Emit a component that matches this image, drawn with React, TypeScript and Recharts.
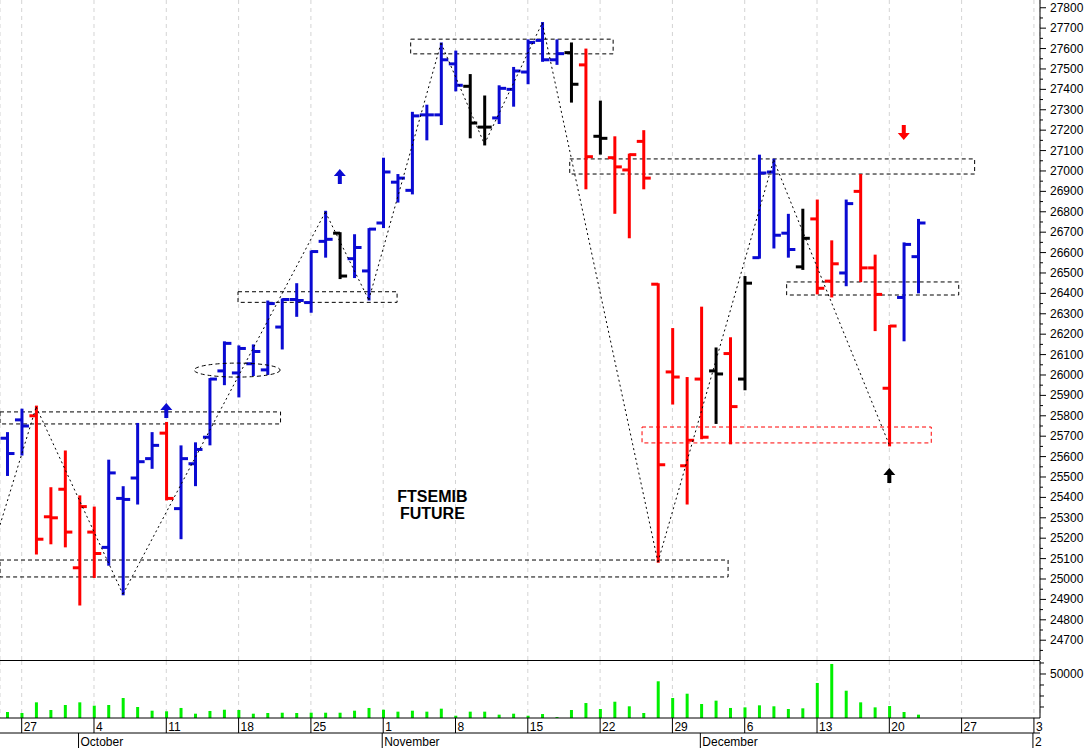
import { ComposedChart, Bar, XAxis, YAxis, CartesianGrid, ReferenceLine, ReferenceArea, ReferenceDot } from "recharts";

const FONT = 'Arial, "Liberation Sans", sans-serif';

// trading days: index 0 = Fri 24 Sep, index 1 = Mon 27 Sep, ... index 63 = Wed 22 Dec
const opens = [
  25690, 25780, 25800, 25305, 25440, 25055, 25230, 25155, 25395, 25495, 25590, 25715, 25345, 25565, 25695, 26020,
  26010, 26055, 26025, 26235, 26370, 26355, 26655, 26695, 26570, 26510, 26745, 26945, 26905, 27275, 27275, 27525,
  27415, 27215, 27260, 27400, 27485, 27640, 27545, 27580, 27520, 27170, 27065, 27005, 27145, 26445, 26015, 25555,
  25980, 26020, 26105, 25980, 26575, 26995, 26695, 26530, 26765, 26460, 26500, 26900, 26525, 25935, 26380, 26580,
];
const highs = [
  25715, 25830, 25845, 25445, 25625, 25405, 25350, 25580, 25450, 25760, 25715, 25765, 25650, 25665, 25980, 26160,
  26140, 26145, 26360, 26370, 26445, 26605, 26800, 26695, 26685, 26715, 27060, 26980, 27285, 27320, 27625, 27585,
  27470, 27365, 27415, 27505, 27640, 27725, 27640, 27625, 27595, 27340, 27165, 27080, 27195, 26445, 26225, 25985,
  26330, 26130, 26180, 26480, 27075, 27055, 26785, 26810, 26855, 26655, 26855, 26980, 26585, 26240, 26645, 26760,
];
const lows = [
  25510, 25610, 25125, 25175, 25160, 24875, 25010, 25070, 24925, 25370, 25545, 25390, 25200, 25460, 25660, 25955,
  25895, 26000, 26005, 26130, 26290, 26310, 26580, 26475, 26480, 26370, 26725, 26850, 26890, 27155, 27230, 27395,
  27165, 27130, 27235, 27320, 27430, 27540, 27525, 27340, 26915, 27085, 26795, 26675, 26915, 25085, 25860, 25370,
  25690, 25765, 25665, 25930, 26575, 26625, 26580, 26520, 26400, 26385, 26440, 26460, 26220, 25655, 26170, 26405,
];
const closes = [
  25615, 25750, 25195, 25300, 25230, 25355, 25125, 25520, 25390, 25575, 25655, 25395, 25590, 25635, 25980, 26155,
  26130, 26115, 26350, 26370, 26365, 26605, 26665, 26485, 26625, 26715, 26995, 26965, 27270, 27275, 27545, 27420,
  27235, 27215, 27405, 27490, 27630, 27545, 27575, 27425, 27070, 27160, 27020, 27080, 26965, 25560, 25990, 25680,
  25695, 26005, 25845, 26450, 26990, 26685, 26615, 26670, 26425, 26545, 26840, 26525, 26395, 26240, 26640, 26745,
];
// signal of each bar: B = long, R = short, K = neutral
const signals = [
  "B", "B", "R", "R", "R", "R", "R", "B", "B", "B", "B", "R", "B", "B", "B", "B",
  "B", "B", "B", "B", "B", "B", "B", "K", "B", "B", "B", "B", "B", "B", "B", "B",
  "K", "K", "B", "B", "B", "B", "B", "K", "R", "K", "R", "R", "R", "R", "R", "R",
  "R", "K", "R", "K", "B", "B", "B", "K", "R", "R", "B", "R", "R", "R", "B", "B",
];
const volumes = [
  6800, 5700, 17800, 9100, 14800, 17800, 14000, 14800, 22700, 12500, 8300, 7600, 11400, 4900, 8000, 9400,
  9100, 4900, 5700, 6000, 5700, 6000, 6000, 6000, 8300, 11400, 9400, 7200, 8300, 7200, 10600, 2600,
  7200, 7200, 3800, 4900, 2600, 4500, 1100, 9100, 17000, 10200, 18500, 13300, 5700, 41700, 22700, 27600,
  15900, 19700, 11400, 12100, 14400, 13300, 10200, 11000, 39800, 61400, 31000, 17800, 12100, 13600, 6800, 3800,
];

const weekTicks = [1, 6, 11, 16, 21, 26, 31, 36, 41, 46, 51, 56, 61, 66, 71];
const weekLabels = ["27", "4", "11", "18", "25", "1", "8", "15", "22", "29", "6", "13", "20", "27", "3"];
const monthTicks = [5, 26, 48, 71];
const monthLabels = ["October", "November", "December", "2"];

// zigzag swing points
const pivotIdx = [-0.5, 2, 8, 22, 25, 30, 33, 37, 45, 53, 61];
const pivotVal = [25265, 25843, 24926, 26799, 26368, 27627, 27132, 27726, 25083, 27054, 25657];

// support / resistance boxes: [x1, x2, y1, y2]
const boxes = [
  [-0.5, 49.85, 25010, 25093],
  [-0.5, 18.9, 25760, 25819],
  [15.96, 26.96, 26356, 26408],
  [27.9, 41.9, 27574, 27646],
  [38.9, 66.9, 26985, 27059],
  [53.9, 65.8, 26392, 26456],
];
const redBox = [43.9, 63.9, 25667, 25745];

// signal arrows: index, price, kind
const arrows = [
  { i: 11, v: 25823, kind: "upB" },
  { i: 23, v: 26970, kind: "upB" },
  { i: 62, v: 27191, kind: "downR" },
  { i: 61, v: 25505, kind: "upK" },
];

const W = 1088;
const PLOT_W = 1040;
const PRICE_H = 660;
const VOL_H = 57;
const ROW_H = 15;
const X_DOMAIN = [-0.5, 71.42];
const PRICE_DOMAIN = [24603, 27838];
const VOL_MAX = 64750;

const COLORS: Record<string, string> = { B: "#0a0ad2", R: "#ff0000", K: "#000000" };

const bars = opens.map((o, i) => ({
  i,
  open: o,
  high: highs[i],
  low: lows[i],
  close: closes[i],
  sig: signals[i],
  vol: volumes[i],
}));

const priceTicks: number[] = [];
for (let v = 24650; v <= 27800; v += 50) priceTicks.push(v);
const volTicks = [12500, 25000, 37500, 50000, 62500];

const OhlcShape = (props: any) => {
  const { x, y, width, height, payload } = props;
  const cx = x + width / 2;
  const top = Math.min(y, y + height);
  const h = Math.abs(height);
  const span = payload.high - payload.low || 1;
  const yOf = (v: number) => top + ((payload.high - v) / span) * h;
  const c = COLORS[payload.sig];
  return (
    <g stroke={c} strokeWidth={3}>
      <line x1={cx} x2={cx} y1={top - 1} y2={top + h + 1} />
      <line x1={cx - 7} x2={cx} y1={yOf(payload.open)} y2={yOf(payload.open)} />
      <line x1={cx} x2={cx + 7} y1={yOf(payload.close)} y2={yOf(payload.close)} />
    </g>
  );
};

const PriceTick = ({ y, payload }: any) => {
  const major = payload.value % 100 === 0;
  return (
    <g>
      <line x1={PLOT_W} x2={PLOT_W + (major ? 6 : 3)} y1={y} y2={y} stroke="#000" />
      {major && (
        <text x={PLOT_W + 10} y={y + 4} fontSize={12} fill="#000" fontFamily={FONT}>
          {payload.value}
        </text>
      )}
    </g>
  );
};

const VolTick = ({ y, payload }: any) => {
  const major = payload.value === 50000;
  return (
    <g>
      <line x1={PLOT_W} x2={PLOT_W + (major ? 6 : 4)} y1={y} y2={y} stroke="#000" />
      {major && (
        <text x={PLOT_W + 10} y={y + 4} fontSize={12} fill="#000" fontFamily={FONT}>
          {payload.value}
        </text>
      )}
    </g>
  );
};

const DayTick = ({ x, payload }: any) => (
  <g>
    <line x1={x} x2={x} y1={VOL_H} y2={VOL_H + ROW_H} stroke="#000" />
    <text x={x + 2} y={VOL_H + 13} fontSize={12} fill="#000" fontFamily={FONT}>
      {weekLabels[weekTicks.indexOf(payload.value)]}
    </text>
  </g>
);

const MonthTick = ({ x, payload }: any) => (
  <g>
    <line x1={x - 1} x2={x - 1} y1={VOL_H + ROW_H} y2={VOL_H + 2 * ROW_H} stroke="#000" />
    <text x={x + 1} y={VOL_H + ROW_H + 12.5} fontSize={12} fill="#000" fontFamily={FONT}>
      {monthLabels[monthTicks.indexOf(payload.value)]}
    </text>
  </g>
);

const Arrow = ({ cx, cy, kind }: any) => {
  const c = kind === "upB" ? COLORS.B : kind === "downR" ? COLORS.R : COLORS.K;
  const d =
    kind === "downR"
      ? `M${cx} ${cy + 8} L${cx - 6} ${cy + 1} L${cx - 2} ${cy + 1} L${cx - 2} ${cy - 7} L${cx + 2} ${cy - 7} L${cx + 2} ${cy + 1} L${cx + 6} ${cy + 1} Z`
      : `M${cx} ${cy - 8} L${cx - 6} ${cy - 1} L${cx - 2} ${cy - 1} L${cx - 2} ${cy + 7} L${cx + 2} ${cy + 7} L${cx + 2} ${cy - 1} L${cx + 6} ${cy - 1} Z`;
  return <path d={d} fill={c} stroke="none" />;
};

export default function App() {
  return (
    <div style={{ position: "absolute", left: 0, top: 0, width: W, height: 748, background: "#fff", fontFamily: FONT }}>
      <ComposedChart width={W} height={PRICE_H} data={bars} margin={{ top: 0, right: 0, bottom: 0, left: 0 }}>
        <CartesianGrid horizontal={false} stroke="#d4d4d4" strokeDasharray="4 4" />
        <XAxis type="number" dataKey="i" domain={X_DOMAIN} ticks={weekTicks} interval={0} hide allowDataOverflow />
        <YAxis
          orientation="right"
          width={W - PLOT_W}
          domain={PRICE_DOMAIN}
          ticks={priceTicks}
          interval={0}
          tick={<PriceTick />}
          tickLine={false}
          axisLine={{ stroke: "#000" }}
          allowDataOverflow
        />
        {boxes.map((b, k) => (
          <ReferenceArea
            key={"b" + k}
            x1={b[0]}
            x2={b[1]}
            y1={b[2]}
            y2={b[3]}
            fill="none"
            fillOpacity={0}
            stroke="#000"
            strokeDasharray="4 3"
            ifOverflow="visible"
          />
        ))}
        <ReferenceArea
          x1={redBox[0]}
          x2={redBox[1]}
          y1={redBox[2]}
          y2={redBox[3]}
          fill="none"
          fillOpacity={0}
          stroke="#ff0000"
          strokeDasharray="4 3"
          ifOverflow="visible"
        />
        <ReferenceDot
          x={15.9}
          y={26024}
          r={1}
          ifOverflow="visible"
          shape={(p: any) => (
            <ellipse cx={p.cx} cy={p.cy} rx={43} ry={7} fill="none" stroke="#000" strokeDasharray="4 3" />
          )}
        />
        {pivotIdx.slice(1).map((xi, k) => (
          <ReferenceLine
            key={"z" + k}
            segment={[
              { x: pivotIdx[k], y: pivotVal[k] },
              { x: xi, y: pivotVal[k + 1] },
            ]}
            stroke="#000"
            strokeDasharray="2 3"
            ifOverflow="visible"
          />
        ))}
        <Bar dataKey={(d: any) => [d.low, d.high]} barSize={3} shape={<OhlcShape />} isAnimationActive={false} />
        {arrows.map((a, k) => (
          <ReferenceDot
            key={"a" + k}
            x={a.i}
            y={a.v}
            r={1}
            ifOverflow="visible"
            shape={(p: any) => <Arrow cx={p.cx} cy={p.cy} kind={a.kind} />}
          />
        ))}
        <ReferenceDot
          x={29.4}
          y={25377}
          r={1}
          ifOverflow="visible"
          shape={(p: any) => (
            <g fontFamily={FONT} fontSize={16} fontWeight="bold" fill="#000" textAnchor="middle">
              <text x={p.cx} y={p.cy}>FTSEMIB</text>
              <text x={p.cx} y={p.cy + 17}>FUTURE</text>
            </g>
          )}
        />
      </ComposedChart>
      <div style={{ width: PLOT_W, height: 0, borderTop: "1px solid #000" }} />
      <ComposedChart width={W} height={VOL_H + 2 * ROW_H} data={bars} margin={{ top: 0, right: 0, bottom: 0, left: 0 }}>
        <CartesianGrid xAxisId="d" horizontal={false} stroke="#d4d4d4" strokeDasharray="4 4" />
        <XAxis
          xAxisId="d"
          type="number"
          dataKey="i"
          domain={X_DOMAIN}
          ticks={weekTicks}
          interval={0}
          height={ROW_H}
          tick={<DayTick />}
          tickLine={false}
          axisLine={{ stroke: "#000" }}
          allowDataOverflow
        />
        <XAxis
          xAxisId="m"
          type="number"
          dataKey="i"
          domain={X_DOMAIN}
          ticks={monthTicks}
          interval={0}
          height={ROW_H}
          tick={<MonthTick />}
          tickLine={false}
          axisLine={{ stroke: "#000" }}
          allowDataOverflow
        />
        <YAxis
          orientation="right"
          width={W - PLOT_W}
          domain={[0, VOL_MAX]}
          ticks={volTicks}
          interval={0}
          tick={<VolTick />}
          tickLine={false}
          axisLine={{ stroke: "#000" }}
          allowDataOverflow
        />
        <Bar xAxisId="d" dataKey="vol" fill="#00f000" barSize={3} isAnimationActive={false} />
      </ComposedChart>
    </div>
  );
}
